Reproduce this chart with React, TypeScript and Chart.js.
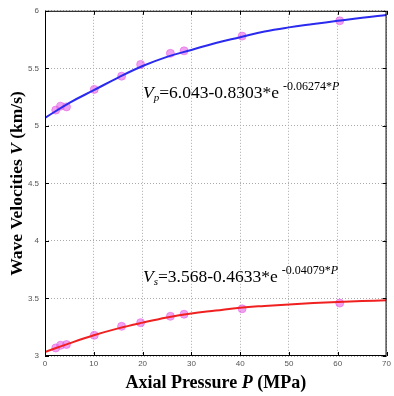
import { useEffect, useRef } from "react";
import { Chart, registerables } from "chart.js";
Chart.register(...registerables);

const pressures = [2.2, 3.2, 4.4, 10.1, 15.7, 19.6, 25.7, 28.5, 40.4, 60.4];
const vpMeasured = [5.137, 5.171, 5.165, 5.317, 5.432, 5.534, 5.63, 5.652, 5.78, 5.913];
const vsMeasured = [3.07, 3.093, 3.1, 3.18, 3.258, 3.29, 3.345, 3.363, 3.41, 3.46];
const curveP = [0, 5, 10, 15, 20, 25, 30, 35, 40, 45, 50, 55, 60, 65, 70];
const vpCurve = [5.07, 5.2, 5.31, 5.42, 5.52, 5.6, 5.66, 5.72, 5.77, 5.82, 5.856, 5.885, 5.913, 5.94, 5.963];
const vsCurve = [3.035, 3.11, 3.18, 3.24, 3.29, 3.335, 3.37, 3.395, 3.42, 3.435, 3.447, 3.46, 3.47, 3.478, 3.484];
const xTicks = [0, 10, 20, 30, 40, 50, 60, 70];
const yTicks = [3, 3.5, 4, 4.5, 5, 5.5, 6];
const xTitleParts: [string, boolean][] = [["Axial Pressure ", false], ["P", true], [" (MPa)", false]];
const yTitleParts: [string, boolean][] = [["Wave Velocities ", false], ["V", true], [" (km/s)", false]];

const serif = "'Liberation Serif', 'Times New Roman', serif";

function drawParts(ctx: CanvasRenderingContext2D, parts: [string, boolean][], size: number) {
  const fonts = parts.map(([, it]) => `${it ? "italic " : ""}bold ${size}px ${serif}`);
  let total = 0;
  const widths = parts.map(([t], i) => {
    ctx.font = fonts[i];
    const w = ctx.measureText(t).width;
    total += w;
    return w;
  });
  let x = -total / 2;
  parts.forEach(([t], i) => {
    ctx.font = fonts[i];
    ctx.fillText(t, x, 0);
    x += widths[i];
  });
}

function drawEq(ctx: CanvasRenderingContext2D, x: number, y: number, sub: string, main: string, sup: string) {
  ctx.save();
  ctx.fillStyle = "#000";
  ctx.textBaseline = "alphabetic";
  ctx.textAlign = "left";
  ctx.font = `italic 17.5px ${serif}`;
  ctx.fillText("V", x, y);
  x += ctx.measureText("V").width;
  ctx.font = `italic 11px ${serif}`;
  ctx.fillText(sub, x, y + 3);
  x += ctx.measureText(sub).width;
  ctx.font = `17.5px ${serif}`;
  ctx.fillText(main, x, y);
  x += ctx.measureText(main).width + 4;
  ctx.font = `12px ${serif}`;
  ctx.fillText(sup, x, y - 8);
  x += ctx.measureText(sup).width;
  ctx.font = `italic 12px ${serif}`;
  ctx.fillText("P", x, y - 8);
  ctx.restore();
}

const framePlugin = {
  id: "frame",
  afterDraw(chart: any) {
    const { ctx, chartArea } = chart;
    const { left, right, top, bottom } = chartArea;
    ctx.save();
    ctx.strokeStyle = "#000";
    ctx.lineWidth = 1;
    ctx.strokeRect(left + 0.5, top + 0.5, right - left - 1, bottom - top - 1);
    const xs = chart.scales.x;
    const ys = chart.scales.y;
    ctx.beginPath();
    for (const t of xTicks) {
      const px = Math.round(xs.getPixelForValue(t)) + 0.5;
      ctx.moveTo(px, bottom); ctx.lineTo(px, bottom - 4);
      ctx.moveTo(px, top); ctx.lineTo(px, top + 4);
    }
    for (const t of yTicks) {
      const py = Math.round(ys.getPixelForValue(t)) + 0.5;
      ctx.moveTo(left, py); ctx.lineTo(left + 4, py);
      ctx.moveTo(right, py); ctx.lineTo(right - 4, py);
    }
    ctx.stroke();

    ctx.fillStyle = "#000";
    ctx.textAlign = "left";
    ctx.textBaseline = "middle";
    ctx.save();
    ctx.translate((left + right) / 2, 383);
    drawParts(ctx, xTitleParts, 18);
    ctx.restore();
    ctx.save();
    ctx.translate(17, (top + bottom) / 2);
    ctx.rotate(-Math.PI / 2);
    drawParts(ctx, yTitleParts, 17.5);
    ctx.restore();
    ctx.restore();

    drawEq(ctx, 143, 98, "p", "=6.043-0.8303*e", "-0.06274*");
    drawEq(ctx, 143, 282, "s", "=3.568-0.4633*e", "-0.04079*");
  },
};

export default function App() {
  const ref = useRef<HTMLCanvasElement>(null);
  useEffect(() => {
    document.body.style.margin = "0";
    const tickFont = { size: 8, family: "'Liberation Sans', Arial, sans-serif" };
    const chart = new Chart(ref.current!, {
      type: "scatter",
      data: {
        datasets: [
          {
            label: "Vp fit",
            data: curveP.map((p, i) => ({ x: p, y: vpCurve[i] })),
            showLine: true,
            borderColor: "#2a2af0",
            borderWidth: 2,
            pointRadius: 0,
            tension: 0.4,
          },
          {
            label: "Vs fit",
            data: curveP.map((p, i) => ({ x: p, y: vsCurve[i] })),
            showLine: true,
            borderColor: "#f02020",
            borderWidth: 2,
            pointRadius: 0,
            tension: 0.4,
          },
          {
            label: "Vp",
            data: pressures.map((p, i) => ({ x: p, y: vpMeasured[i] })),
            backgroundColor: "rgba(230,100,230,0.6)",
            borderColor: "rgba(230,100,230,0.6)",
            pointRadius: 4,
          },
          {
            label: "Vs",
            data: pressures.map((p, i) => ({ x: p, y: vsMeasured[i] })),
            backgroundColor: "rgba(230,100,230,0.6)",
            borderColor: "rgba(230,100,230,0.6)",
            pointRadius: 4,
          },
        ],
      },
      options: {
        responsive: false,
        animation: false,
        layout: { padding: { top: 10, right: 4, left: 0, bottom: 0 } },
        plugins: { legend: { display: false }, tooltip: { enabled: false } },
        scales: {
          x: {
            type: "linear",
            min: 0,
            max: 70,
            afterBuildTicks: (s: any) => { s.ticks = xTicks.map((v) => ({ value: v })); },
            afterFit: (s: any) => { s.height = 40; },
            ticks: { font: tickFont, color: "#555", padding: 3, callback: (v: any) => String(v) },
            grid: { color: "#aaa", lineWidth: 1, drawTicks: false },
            border: { display: false, dash: [1, 2] },
            title: { display: false },
          },
          y: {
            min: 3,
            max: 6,
            afterBuildTicks: (s: any) => { s.ticks = yTicks.map((v) => ({ value: v })); },
            afterFit: (s: any) => { s.width = 45; },
            ticks: { font: tickFont, color: "#555", padding: 6, callback: (v: any) => String(v) },
            grid: { color: "#aaa", lineWidth: 1, drawTicks: false },
            border: { display: false, dash: [1, 2] },
            title: { display: false },
          },
        },
      },
      plugins: [framePlugin],
    } as any);
    return () => chart.destroy();
  }, []);
  return <canvas ref={ref} width={394} height={396} style={{ display: "block" }} />;
}
